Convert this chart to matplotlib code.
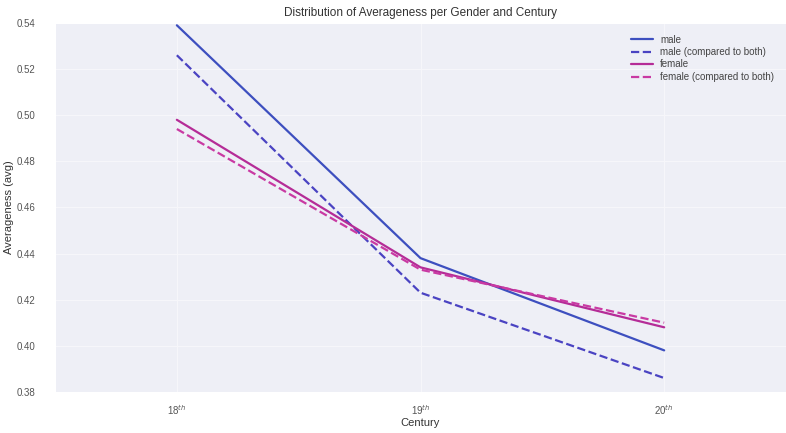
import matplotlib
matplotlib.use('Agg')
import matplotlib.pyplot as plt
import seaborn as sns

centuries = ['18$^{th}$', '19$^{th}$', '20$^{th}$']

male = [0.539, 0.438, 0.398]
male_both = [0.526, 0.423, 0.386]
female = [0.498, 0.434, 0.408]
female_both = [0.494, 0.433, 0.410]

series = [
    ('male', male, '#3d4fbf', '-'),
    ('male (compared to both)', male_both, '#4a43c2', '--'),
    ('female', female, '#b52c97', '-'),
    ('female (compared to both)', female_both, '#c93aa3', '--'),
]

sns.set_style('darkgrid', {'axes.facecolor': '#eeeff6', 'grid.color': '#f6f6fa'})
plt.rcParams['font.family'] = ['Liberation Sans', 'DejaVu Sans']

fig = plt.figure(figsize=(7.86, 4.33), dpi=100)
ax = fig.add_axes([0.070, 0.095, 0.930, 0.852])

x = range(len(centuries))
for label, vals, color, ls in series:
    ax.plot(x, vals, color=color, linestyle=ls, linewidth=1.6, label=label)

ax.set_xlim(-0.5, 2.5)
ax.set_ylim(0.38, 0.54)
ax.set_yticks([0.38, 0.40, 0.42, 0.44, 0.46, 0.48, 0.50, 0.52, 0.54])
ax.set_yticklabels(['%.2f' % v for v in ax.get_yticks()], fontsize=7, color='#555555')
ax.set_xticks(list(x))
ax.set_xticklabels(centuries, fontsize=7, color='#555555')
ax.tick_params(axis='y', length=0, pad=14)
ax.tick_params(axis='x', length=0, pad=8)

ax.set_title('Distribution of Averageness per Gender and Century', fontsize=8.5, color='#333333', pad=5)
ax.set_xlabel('Century', fontsize=8, color='#333333', labelpad=1)
ax.set_ylabel('Averageness (avg)', fontsize=8, color='#333333', labelpad=2)

ax.legend(loc='upper right', fontsize=7, frameon=False, handlelength=2.2,
          labelspacing=0.25, borderaxespad=0.8, labelcolor='#444444')

fig.savefig('out.png', dpi=100)
